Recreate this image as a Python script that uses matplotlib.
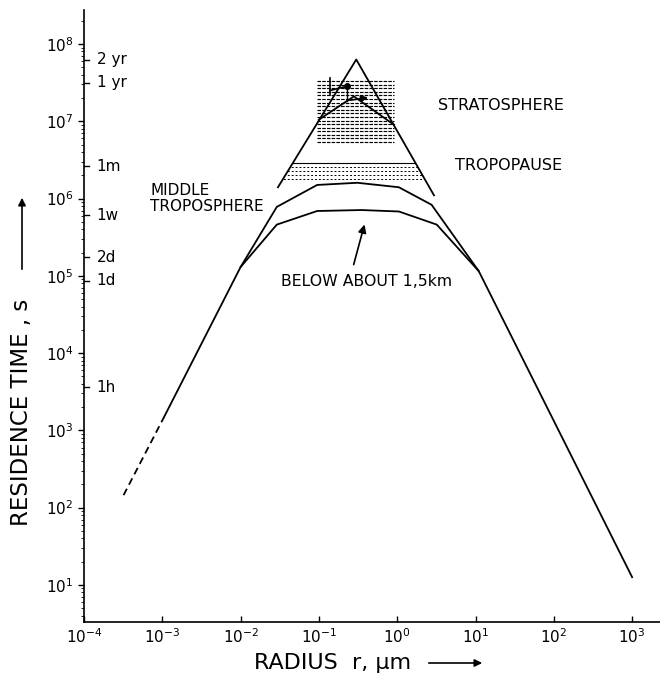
import numpy as np
import matplotlib
matplotlib.use("Agg")
import matplotlib.pyplot as plt
from matplotlib.patches import Polygon
from matplotlib.transforms import blended_transform_factory

# residence time curves (r in um, t in s)
dash_r = [3.2e-4, 1.05e-3]
dash_t = [145, 1480]

# below about 1.5 km, incl. the common flanks on both sides
low_r = [1.05e-3, 1e-2, 0.029, 0.095, 0.35, 1.05, 3.2, 11, 1e3]
low_t = [1480, 1.3e5, 4.6e5, 6.9e5, 7.1e5, 6.8e5, 4.6e5, 1.15e5, 12.6]

# middle troposphere
mid_r = [1e-2, 0.029, 0.095, 0.31, 1.05, 2.75, 11]
mid_t = [1.3e5, 7.8e5, 1.5e6, 1.6e6, 1.4e6, 8.3e5, 1.15e5]

# stratosphere envelope and the inner line
strat_r = [0.030, 0.30, 2.95]
strat_t = [1.4e6, 6.3e7, 1.1e6]
inner_r = [0.1, 0.28, 0.91]
inner_t = [1.05e7, 2.1e7, 9.0e6]

# shaded bands
strat_band_r = [0.095, 0.91]
strat_band_t = [5.4e6, 3.3e7]
tropo_band_t = [2.9e6, 2.55e6, 2.3e6, 2.0e6, 1.8e6]

# observation marks near 1 yr
bar_r = [0.138, 0.138]
bar_t = [2.2e7, 3.6e7]
obs_r = [0.138, 0.23]
obs_t = [2.5e7, 2.85e7]
obs_arrow_r = [0.23, 0.46]
obs_arrow_t = [1.85e7, 2.05e7]

xtick_vals = [1e-4, 1e-3, 1e-2, 1e-1, 1e0, 1e1, 1e2, 1e3]
xtick_labs = [r"$10^{-4}$", r"$10^{-3}$", r"$10^{-2}$", r"$10^{-1}$",
              r"$10^{0}$", r"$10^{1}$", r"$10^{2}$", r"$10^{3}$"]
ytick_vals = [1e1, 1e2, 1e3, 1e4, 1e5, 1e6, 1e7, 1e8]
ytick_labs = [r"$10^{%d}$" % k for k in range(1, 9)]

time_sec = [6.3e7, 3.15e7, 2.6e6, 6.05e5, 1.73e5, 8.64e4, 3600]
time_lab = ["2 yr", "1 yr", "1m", "1w", "2d", "1d", "1h"]

W, H = 660, 683
fig = plt.figure(figsize=(W / 100, H / 100), dpi=100)
ax = fig.add_axes([84 / W, 61 / H, 576 / W, 612 / H])
ax.set_xscale("log")
ax.set_yscale("log")
ax.set_xlim(1e-4, 10 ** 3.356)
ax.set_ylim(10 ** 0.52, 10 ** 8.44)

lw = 1.3
ax.plot(dash_r, dash_t, color="k", lw=lw, ls=(0, (4, 2.5)))
ax.plot(low_r, low_t, color="k", lw=lw)
ax.plot(mid_r, mid_t, color="k", lw=lw)
ax.plot(strat_r, strat_t, color="k", lw=lw)
ax.plot(inner_r, inner_t, color="k", lw=lw)

# stratospheric hatch block
levels = np.geomspace(strat_band_t[0], strat_band_t[1], 18)
ax.hlines(levels, strat_band_r[0], strat_band_r[1], colors="k", lw=0.85,
          linestyles=(0, (3, 1)))

# tropopause band, clipped to the stratosphere envelope
clip = Polygon(list(zip(strat_r, strat_t)), closed=True, transform=ax.transData,
               facecolor="none", edgecolor="none")
ax.add_patch(clip)
for i, t in enumerate(tropo_band_t):
    ln = ax.hlines(t, 0.02, 4, colors="k", lw=0.8 if i == 0 else 0.7,
                   linestyles="-" if i == 0 else (0, (2, 2)))
    ln.set_clip_path(clip)

# observation marks
ax.plot(bar_r, bar_t, color="k", lw=1.2)
ax.plot(obs_r, obs_t, color="k", lw=1.2)
ax.plot(obs_r[-1], obs_t[-1], "o", color="k", ms=4)
ax.plot([obs_r[-1], obs_r[-1]], [obs_arrow_t[0], obs_t[-1]], color="k", lw=1.0)
ax.annotate("", xy=(obs_arrow_r[1], obs_arrow_t[1]),
            xytext=(obs_arrow_r[0], obs_arrow_t[0]),
            arrowprops=dict(arrowstyle="-|>", color="k", lw=1.2, mutation_scale=10))

# region labels
fs = 11.5
ax.text(3.3, 1.6e7, "STRATOSPHERE", fontsize=fs, ha="left", va="center")
ax.text(5.47, 2.7e6, "TROPOPAUSE", fontsize=fs, ha="left", va="center")
ax.text(7.0e-4, 1.0e6, "MIDDLE\nTROPOSPHERE", fontsize=11, ha="left",
        va="center", linespacing=1.05)
ax.text(0.41, 8.5e4, "BELOW ABOUT 1,5km", fontsize=11.3, ha="center", va="center")
ax.annotate("", xy=(0.39, 5.0e5), xytext=(0.272, 1.29e5),
            arrowprops=dict(arrowstyle="-|>", color="k", lw=1.2, mutation_scale=12))

# axes styling
for s in ("top", "right"):
    ax.spines[s].set_visible(False)
for s in ("left", "bottom"):
    ax.spines[s].set_linewidth(1.2)
ax.set_xticks(xtick_vals)
ax.set_xticklabels(xtick_labs, fontsize=11)
ax.set_yticks(ytick_vals)
ax.set_yticklabels(ytick_labs, fontsize=11)
ax.tick_params(axis="x", direction="in", length=4, width=1, pad=4)
ax.tick_params(axis="y", direction="out", length=4.5, width=1, pad=3)
ax.tick_params(axis="x", which="minor", length=0)
ax.tick_params(axis="y", which="minor", direction="out", length=2, width=0.6)

# time marks on the inner side of the y axis
trans = blended_transform_factory(ax.transAxes, ax.transData)
for t, lab in zip(time_sec, time_lab):
    ax.plot([0, 0.009], [t, t], transform=trans, color="k", lw=1, clip_on=False)
    ax.text(0.022, t, lab, transform=trans, fontsize=11, ha="left", va="center")

# axis titles with arrows (figure pixels, origin bottom left)
fig.text(22 / W, (H - 412) / H, "RESIDENCE TIME , s", rotation=90,
         fontsize=16.5, ha="center", va="center")
ax.annotate("", xy=(22, H - 195), xytext=(22, H - 272), xycoords="figure pixels",
            textcoords="figure pixels",
            arrowprops=dict(arrowstyle="-|>", color="k", lw=1.2, mutation_scale=11))
fig.text(254 / W, 20 / H, "RADIUS  r, \u00b5m", fontsize=16, ha="left",
         va="center")
ax.annotate("", xy=(485, 20), xytext=(426, 20), xycoords="figure pixels",
            textcoords="figure pixels",
            arrowprops=dict(arrowstyle="-|>", color="k", lw=1.2, mutation_scale=11))

fig.savefig("out.png", dpi=100, facecolor="white")
